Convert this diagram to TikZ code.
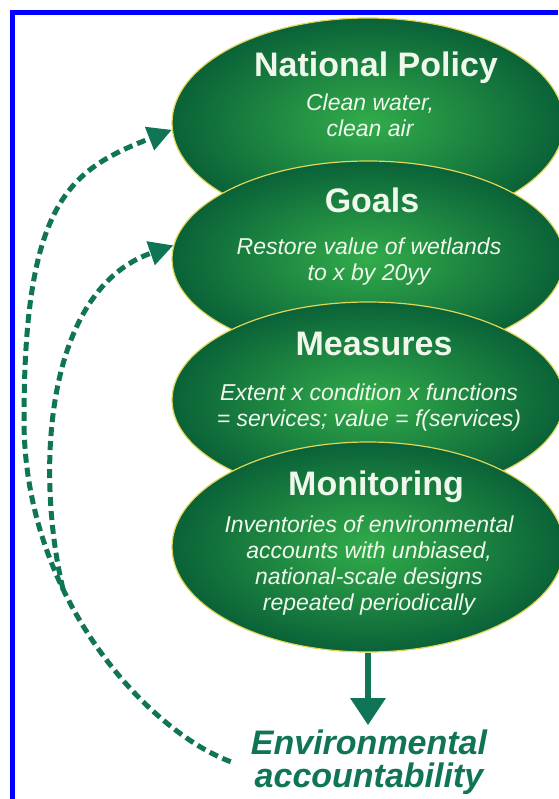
\documentclass[tikz,border=0pt]{standalone}
\usepackage{fontspec}
\setmainfont{Liberation Sans}
\usepackage{tikz}
\usetikzlibrary{arrows.meta, positioning, shapes.geometric}
\usepackage{xcolor}
\definecolor{leaf}{RGB}{50,172,74}
\definecolor{forest}{RGB}{10,98,56}
\definecolor{rim}{RGB}{224,214,86}
\definecolor{pine}{RGB}{16,116,86}
\definecolor{frameblue}{RGB}{0,0,255}
\definecolor{paletext}{RGB}{240,248,236}

\begin{document}
\begin{tikzpicture}[
x=1pt, y=-1pt,
oval/.style={ellipse,
draw=rim,
line width=1.2pt,
inner color=leaf,
outer color=forest,
minimum width=392pt,
inner sep=0pt},
title/.style={font=\bfseries\fontsize{34}{36}\selectfont,
text=paletext,
anchor=base,
inner sep=0pt},
sub/.style={font=\itshape\fontsize{23}{26}\selectfont,
text=paletext,
align=center,
anchor=base,
inner sep=0pt},
arrow/.style={-{Triangle[length=27pt, width=34pt]}, line width=6pt, pine},
feedback/.style={-{Triangle[length=24pt, width=24pt]}, line width=5pt, pine, dash pattern=on 9pt off 5pt}
]

\useasboundingbox (0,0) rectangle (558,799);
\draw[frameblue, line width=5pt] (12.5,799) -- (12.5,12.5) -- (558,12.5);

\node[oval, minimum height=210pt] (policy) at (368,123) {};
\node[oval, minimum height=196pt] (goals) at (368,259) {};
\node[oval, minimum height=196pt] (measures) at (368,400) {};
\node[oval, minimum height=210pt] (monitoring) at (368,547) {};

\node[title] (policytitle) at (376,77) {National Policy};
\node[sub] (policytext) at (370,137) {Clean water,\\clean air};
\node[title] (goalstitle) at (372,213) {Goals};
\node[sub] (goalstext) at (369,280) {Restore value of wetlands\\to x by 20yy};
\node[title] (measurestitle) at (374,355) {Measures};
\node[sub] (measurestext) at (369,426) {Extent x condition x functions\\= services; value = f(services)};
\node[title] (monitoringtitle) at (376,495) {Monitoring};
\node[sub, font=\itshape\fontsize{23}{25.7}\selectfont] (monitoringtext) at (369,610) {Inventories of environmental\\accounts with unbiased,\\national-scale designs\\repeated periodically};

\node[font=\bfseries\itshape\fontsize{34}{33}\selectfont, text=pine, align=center, anchor=base, inner sep=0pt] (account) at (369,787) {Environmental\\accountability};

\draw[arrow] (monitoring.south) -- ([yshift=4pt]account.north -| monitoring.south);

\draw[feedback] ([xshift=-20pt]account.west) .. controls (150,732) and (24,600) .. (24,420) coordinate[pos=0.65] (branch) .. controls (24,200) and (70,170) .. (policy.182);
\draw[feedback] (branch) .. controls (35,470) and (45,290) .. (goals.176);

\end{tikzpicture}
\end{document}
